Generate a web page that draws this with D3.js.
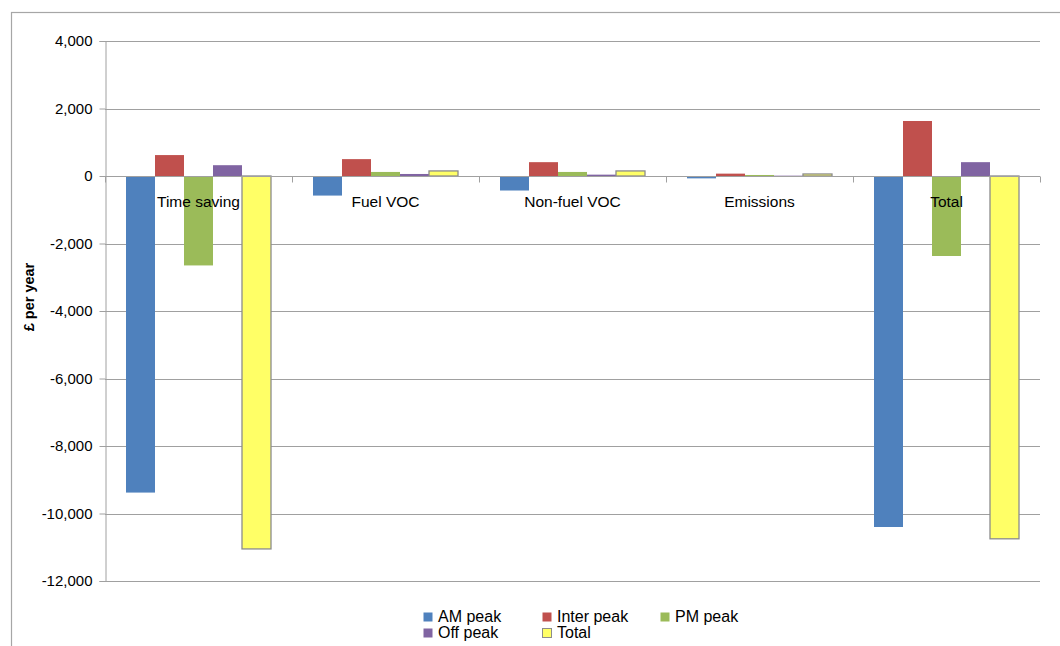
<!DOCTYPE html>
<html>
<head>
<meta charset="utf-8">
<script src="https://cdn.jsdelivr.net/npm/d3@7"></script>
<style>
  html, body { margin: 0; padding: 0; background: #fff; }
  svg { display: block; }
  text { font-family: "Liberation Sans", Arial, sans-serif; fill: #000; }
</style>
</head>
<body>
<script>
const categories = ["Time saving", "Fuel VOC", "Non-fuel VOC", "Emissions", "Total"];
const seriesNames = ["AM peak", "Inter peak", "PM peak", "Off peak", "Total"];
const amPeak    = [-9380, -580, -430, -70, -10400];
const interPeak = [620, 500, 410, 70, 1630];
const pmPeak    = [-2650, 120, 120, 30, -2370];
const offPeak   = [320, 60, 40, 10, 410];
const totalVals = [-11050, 150, 150, 60, -10750];
const yTicks = [-12000, -10000, -8000, -6000, -4000, -2000, 0, 2000, 4000];
const yTitle = "£ per year";

const seriesValues = [amPeak, interPeak, pmPeak, offPeak, totalVals];
const colors = ["#4F81BD", "#C0504D", "#9BBB59", "#8064A2", "#FFFF66"];
const strokes = [null, null, null, null, "#8c8c8c"];

const W = 1060, H = 646;
const svg = d3.select("body").append("svg").attr("width", W).attr("height", H);

// outer chart border (only top/left visible)
svg.append("rect").attr("x", 11.5).attr("y", 12.5).attr("width", 1100).attr("height", 700)
  .attr("fill", "none").attr("stroke", "#a6a6a6").attr("stroke-width", 1.2);

const pLeft = 105, pRight = 1040, pTop = 41, pBottom = 581;
const y = d3.scaleLinear().domain([-12000, 4000]).range([pBottom, pTop]);
const x0 = d3.scaleBand().domain(categories).range([pLeft, pRight])
  .paddingInner(0.2246).paddingOuter(0.1123);
const x1 = d3.scaleBand().domain(seriesNames).range([0, x0.bandwidth()]).padding(0);

// gridlines
svg.append("g").selectAll("line").data(yTicks).join("line")
  .attr("x1", pLeft).attr("x2", pRight)
  .attr("y1", d => Math.round(y(d)) + 0.5).attr("y2", d => Math.round(y(d)) + 0.5)
  .attr("stroke", "#a0a0a0").attr("stroke-width", 1);

// y axis
const fmt = d3.format(",");
const yAxis = d3.axisLeft(y).tickValues(yTicks)
  .tickFormat(d => fmt(d).replace("\u2212", "-")).tickSize(6).tickPadding(7);
const gy = svg.append("g").attr("transform", `translate(${pLeft + 0.5},0)`).call(yAxis);
gy.select(".domain").attr("stroke", "#a0a0a0");
gy.selectAll(".tick line").attr("stroke", "#a0a0a0");
gy.selectAll(".tick text").style("font-size", "15px").style("font-family", "'Liberation Sans', Arial, sans-serif").attr("fill", "#000");

// bars
const groups = svg.append("g").selectAll("g").data(categories).join("g")
  .attr("transform", d => `translate(${x0(d)},0)`);
groups.selectAll("rect").data((c, ci) => seriesNames.map((s, si) => ({s, si, v: seriesValues[si][ci]})))
  .join("rect")
  .attr("x", d => x1(d.s))
  .attr("width", x1.bandwidth())
  .attr("y", d => Math.min(y(d.v), y(0)))
  .attr("height", d => Math.abs(y(d.v) - y(0)))
  .attr("fill", d => colors[d.si])
  .attr("stroke", d => strokes[d.si] || "none")
  .attr("stroke-width", d => strokes[d.si] ? 1.3 : 0);

// zero axis line + category tick marks
const zy = Math.round(y(0)) + 0.5;
svg.append("line").attr("x1", pLeft).attr("x2", pRight).attr("y1", zy).attr("y2", zy)
  .attr("stroke", "#a0a0a0");
const bounds = categories.map(c => x0(c) - x0.step() * x0.paddingInner() / 2).concat([pRight]);
svg.append("g").selectAll("line").data(bounds).join("line")
  .attr("x1", d => Math.round(d) + 0.5).attr("x2", d => Math.round(d) + 0.5)
  .attr("y1", zy).attr("y2", zy + 6).attr("stroke", "#a0a0a0");

// category labels
svg.append("g").selectAll("text").data(categories).join("text")
  .attr("x", d => x0(d) + x0.bandwidth() / 2)
  .attr("y", 207)
  .attr("text-anchor", "middle")
  .style("font-size", "15.5px")
  .text(d => d);

// y title
svg.append("text")
  .attr("transform", `translate(34,297) rotate(-90)`)
  .attr("text-anchor", "middle")
  .style("font-size", "14.5px").style("font-weight", "bold")
  .text(yTitle);

// legend
const legendPos = [[423, 612], [542, 612], [660, 612], [423, 628], [542, 628]];
const lg = svg.append("g").selectAll("g").data(seriesNames).join("g")
  .attr("transform", (d, i) => `translate(${legendPos[i][0]},${legendPos[i][1]})`);
lg.append("rect").attr("x", 0.5).attr("y", 0.5).attr("width", 9).attr("height", 9)
  .attr("fill", (d, i) => colors[i])
  .attr("stroke", (d, i) => strokes[i] || "none");
lg.append("text").attr("x", 15).attr("y", 10).style("font-size", "16px").text(d => d);
</script>
</body>
</html>
